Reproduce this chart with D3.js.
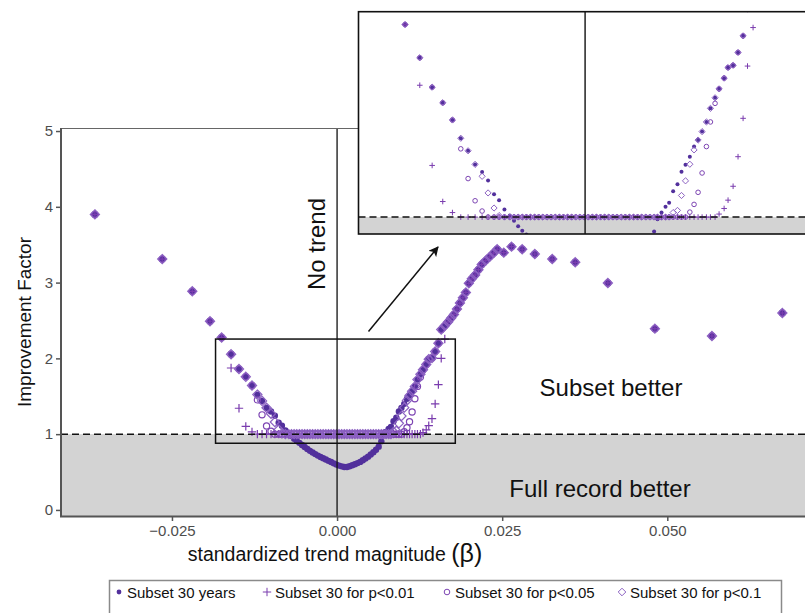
<!DOCTYPE html>
<html><head><meta charset="utf-8">
<script src="https://cdn.jsdelivr.net/npm/d3@7"></script>
<style>
body{margin:0;background:#fff}
svg{display:block}
text{font-family:"Liberation Sans", Arial, Helvetica, sans-serif}
</style>
</head><body>
<svg id="c" width="805" height="613"></svg>
<script>
// ---------------- data ----------------
const beta = [
  -0.03667, -0.02647, -0.02192, -0.01924, -0.01748, -0.01605, -0.01485, -0.01382, -0.01288,
  -0.01207, -0.01136, -0.01068, -0.01000, -0.00942, -0.00884, -0.00835, -0.00783, -0.00731,
  -0.0069, -0.0065, -0.0061, -0.0057, -0.0053, -0.0049, -0.0045, -0.0041, -0.0037, -0.0033,
  -0.0029, -0.0025, -0.0021, -0.0017, -0.0013, -0.0009, -0.0005, -0.0001, 0.0003, 0.0007,
  0.0011, 0.0015, 0.0019, 0.0023, 0.0027, 0.0031, 0.0035, 0.0039, 0.0043, 0.0047, 0.0051,
  0.0055, 0.0059, 0.0063, 0.0067,
  0.00703, 0.00742, 0.00781, 0.00816, 0.00855, 0.00897, 0.00936, 0.00975, 0.01017, 0.01058,
  0.01097, 0.01136, 0.01178, 0.01217, 0.01262, 0.01301, 0.01350, 0.01388, 0.01437, 0.01485,
  0.01534, 0.01577, 0.01631,
  0.01680, 0.01725, 0.01770, 0.01815, 0.01860, 0.01905, 0.01950, 0.01995, 0.02040, 0.02090,
  0.02140, 0.02190, 0.02250, 0.02310, 0.02370, 0.02424, 0.02524, 0.02641, 0.02803, 0.02994,
  0.03258, 0.03606, 0.04100, 0.04812, 0.05676, 0.06742
];
const subset30 = [
  3.90, 3.31, 2.885, 2.49, 2.275, 2.055, 1.86, 1.757, 1.643,
  1.522, 1.439, 1.349, 1.299, 1.243, 1.151, 1.112, 1.05, 1.01,
  0.975, 0.94, 0.91, 0.885, 0.857, 0.83, 0.805, 0.78, 0.758, 0.737,
  0.717, 0.698, 0.682, 0.665, 0.648, 0.632, 0.615, 0.598, 0.585, 0.575,
  0.567, 0.566, 0.577, 0.59, 0.603, 0.618, 0.634, 0.655, 0.678, 0.703, 0.732,
  0.762, 0.795, 0.835, 0.905,
  0.985, 1.03, 1.068, 1.095, 1.171, 1.217, 1.30, 1.347, 1.40, 1.467,
  1.51, 1.566, 1.63, 1.72, 1.79, 1.849, 1.92, 1.99, 2.005, 2.09,
  2.20, 2.38, 2.43,
  2.48, 2.53, 2.58, 2.65, 2.73, 2.80, 2.87, 2.99, 3.05, 3.10,
  3.17, 3.24, 3.29, 3.34, 3.39, 3.44, 3.395, 3.474, 3.44, 3.377,
  3.311, 3.268, 2.995, 2.392, 2.295, 2.599
];
const p01 = [
  3.90, 3.31, 2.885, 2.49, 2.275, 1.873, 1.342, 1.103, 1.03,
  1, 1, 1, 1, 1, 1, 1, 1, 1,
  1, 1, 1, 1, 1, 1, 1, 1, 1, 1,
  1, 1, 1, 1, 1, 1, 1, 1, 1, 1,
  1, 1, 1, 1, 1, 1, 1, 1, 1, 1, 1,
  1, 1, 1, 1,
  1, 1, 1, 1, 1, 1, 1, 1, 1, 1,
  1, 1, 1, 1, 1, 1.02, 1.057, 1.112, 1.204, 1.40,
  1.654, 2.0, 2.255,
  2.48, 2.53, 2.58, 2.65, 2.73, 2.80, 2.87, 2.99, 3.05, 3.10,
  3.17, 3.24, 3.29, 3.34, 3.39, 3.44, 3.395, 3.474, 3.44, 3.377,
  3.311, 3.268, 2.995, 2.392, 2.295, 2.599
];
const p05 = [
  3.90, 3.31, 2.885, 2.49, 2.275, 2.055, 1.86, 1.757, 1.643,
  1.452, 1.255, 1.108, 1.04, 1, 1, 1, 1, 1,
  1, 1, 1, 1, 1, 1, 1, 1, 1, 1,
  1, 1, 1, 1, 1, 1, 1, 1, 1, 1,
  1, 1, 1, 1, 1, 1, 1, 1, 1, 1, 1,
  1, 1, 1, 1,
  1, 1, 1, 1, 1, 1, 1, 1, 1.033, 1.084,
  1.164, 1.292, 1.467, 1.63, 1.753, 1.849, 1.92, 1.99, 2.005, 2.09,
  2.20, 2.38, 2.43,
  2.48, 2.53, 2.58, 2.65, 2.73, 2.80, 2.87, 2.99, 3.05, 3.10,
  3.17, 3.24, 3.29, 3.34, 3.39, 3.44, 3.395, 3.474, 3.44, 3.377,
  3.311, 3.268, 2.995, 2.392, 2.295, 2.599
];
const p10 = [
  3.90, 3.31, 2.885, 2.49, 2.275, 2.055, 1.86, 1.757, 1.643,
  1.522, 1.439, 1.349, 1.27, 1.16, 1.06, 1.01, 1, 1,
  1, 1, 1, 1, 1, 1, 1, 1, 1, 1,
  1, 1, 1, 1, 1, 1, 1, 1, 1, 1,
  1, 1, 1, 1, 1, 1, 1, 1, 1, 1, 1,
  1, 1, 1, 1,
  1, 1, 1, 1, 1.03, 1.044, 1.143, 1.24, 1.35, 1.445,
  1.51, 1.566, 1.63, 1.72, 1.79, 1.849, 1.92, 1.99, 2.005, 2.09,
  2.20, 2.38, 2.43,
  2.48, 2.53, 2.58, 2.65, 2.73, 2.80, 2.87, 2.99, 3.05, 3.10,
  3.17, 3.24, 3.29, 3.34, 3.39, 3.44, 3.395, 3.474, 3.44, 3.377,
  3.311, 3.268, 2.995, 2.392, 2.295, 2.599
];
const xTicks = [-0.025, 0, 0.025, 0.05];
const yTicks = [0, 1, 2, 3, 4, 5];
const seriesNames = ["Subset 30 years", "Subset 30 for p<0.01", "Subset 30 for p<0.05", "Subset 30 for p<0.1"];
const seriesShapes = ["dot", "plus", "circle", "diamond"];
const seriesColors = ["#52309c", "#7a3cae", "#7d45b3", "#8c62c2"];
const seriesValues = [subset30, p01, p05, p10];
const threshold = 1;
const zoomBox = {b0: -0.0184, b1: 0.0179, v0: 0.88, v1: 2.255};

// ---------------- drawing ----------------
const svg = d3.select("#c");
const W = 805, H = 613;

const x = d3.scaleLinear().domain([-0.0418, 0.0710]).range([61, 806]);
const y = d3.scaleLinear().domain([-0.08, 5.04]).range([516, 128]);

svg.append("clipPath").attr("id", "mainClip").append("rect")
  .attr("x", 61).attr("y", 128).attr("width", W - 61).attr("height", 388);

function drawSymbols(g, xs, ys, vals, shape, color, sz) {
  const pts = beta.map((b, i) => [xs(b), ys(vals[i])]);
  if (shape === "dot") {
    g.selectAll(null).data(pts).enter().append("circle")
      .attr("cx", d => d[0]).attr("cy", d => d[1]).attr("r", sz.dot)
      .attr("fill", color);
  } else if (shape === "circle") {
    g.selectAll(null).data(pts).enter().append("circle")
      .attr("cx", d => d[0]).attr("cy", d => d[1]).attr("r", sz.circle)
      .attr("fill", "none").attr("stroke", color).attr("stroke-width", sz.sw);
  } else if (shape === "plus") {
    const h = sz.plus;
    g.selectAll(null).data(pts).enter().append("path")
      .attr("d", d => `M${d[0]-h},${d[1]}H${d[0]+h}M${d[0]},${d[1]-h}V${d[1]+h}`)
      .attr("fill", "none").attr("stroke", color).attr("stroke-width", sz.sw);
  } else {
    const h = sz.diamond;
    g.selectAll(null).data(pts).enter().append("path")
      .attr("d", d => `M${d[0]},${d[1]-h}L${d[0]+h},${d[1]}L${d[0]},${d[1]+h}L${d[0]-h},${d[1]}Z`)
      .attr("fill", "none").attr("stroke", color).attr("stroke-width", sz.sw);
  }
}

// main panel
const main = svg.append("g");
const mc = main.append("g").attr("clip-path", "url(#mainClip)");
mc.append("rect").attr("x", 61).attr("y", y(threshold))
  .attr("width", W - 61).attr("height", 516 - y(threshold)).attr("fill", "#d3d3d3");

const mainSize = {dot: 3.2, circle: 3.1, plus: 4.2, diamond: 4.6, sw: 1.2};
seriesShapes.forEach((s, k) => {
  drawSymbols(mc.append("g"), x, y, seriesValues[k], s, seriesColors[k], mainSize);
});

mc.append("line").attr("x1", 61).attr("x2", W).attr("y1", y(threshold)).attr("y2", y(threshold))
  .attr("stroke", "#111").attr("stroke-width", 1.5).attr("stroke-dasharray", "7,4");
mc.append("line").attr("x1", x(0)).attr("x2", x(0)).attr("y1", 128).attr("y2", 516)
  .attr("stroke", "#111").attr("stroke-width", 1.3);

// zoom box
main.append("rect")
  .attr("x", x(zoomBox.b0)).attr("y", y(zoomBox.v1))
  .attr("width", x(zoomBox.b1) - x(zoomBox.b0)).attr("height", y(zoomBox.v0) - y(zoomBox.v1))
  .attr("fill", "none").attr("stroke", "#111").attr("stroke-width", 1.5);

// panel border lines
main.append("line").attr("x1", 61).attr("x2", W).attr("y1", 128.5).attr("y2", 128.5)
  .attr("stroke", "#666").attr("stroke-width", 1.2);
main.append("line").attr("x1", 61).attr("x2", 61).attr("y1", 128).attr("y2", 517)
  .attr("stroke", "#555").attr("stroke-width", 2);
main.append("line").attr("x1", 60).attr("x2", W).attr("y1", 516.5).attr("y2", 516.5)
  .attr("stroke", "#555").attr("stroke-width", 2);

// axes
const yAxis = svg.append("g").attr("transform", "translate(61,0)")
  .call(d3.axisLeft(y).tickValues(yTicks).tickFormat(d3.format("d")).tickSize(5).tickPadding(3));
yAxis.select(".domain").remove();
yAxis.selectAll("line").attr("stroke", "#555").attr("stroke-width", 1.5);
yAxis.selectAll("text").attr("fill", "#4d4d4d").style("font-size", "15px");

const xAxis = svg.append("g").attr("transform", "translate(0,516)")
  .call(d3.axisBottom(x).tickValues(xTicks).tickFormat(d3.format(".3f")).tickSize(5).tickPadding(4));
xAxis.select(".domain").remove();
xAxis.selectAll("line").attr("stroke", "#555").attr("stroke-width", 1.5);
xAxis.selectAll("text").attr("fill", "#4d4d4d").style("font-size", "15px");

// axis titles
svg.append("text").attr("transform", "translate(31,322) rotate(-90)")
  .attr("text-anchor", "middle").style("font-size", "19px").attr("fill", "#111")
  .text("Improvement Factor");
const xt = svg.append("text").attr("x", 335).attr("y", 561)
  .attr("text-anchor", "middle").style("font-size", "19.5px").attr("fill", "#111");
xt.append("tspan").text("standardized trend magnitude ");
xt.append("tspan").style("font-size", "25px").attr("dy", 1).text("(β)");

// annotations
svg.append("text").attr("transform", `translate(${x(0) - 12},244) rotate(-90)`)
  .attr("text-anchor", "middle").style("font-size", "24px").attr("fill", "#111").text("No trend");
svg.append("text").attr("x", 611).attr("y", 396).attr("text-anchor", "middle")
  .style("font-size", "24px").attr("fill", "#111").text("Subset better");
svg.append("text").attr("x", 600).attr("y", 497).attr("text-anchor", "middle")
  .style("font-size", "24px").attr("fill", "#111").text("Full record better");

// arrow
const defs = svg.append("defs");
defs.append("marker").attr("id", "arrowHead").attr("viewBox", "0 0 10 10")
  .attr("refX", 9).attr("refY", 5).attr("markerWidth", 10).attr("markerHeight", 10)
  .attr("markerUnits", "userSpaceOnUse").attr("orient", "auto")
  .append("path").attr("d", "M0,0L10,5L0,10L2.5,5Z").attr("fill", "#111");
svg.append("line").attr("x1", 368.5).attr("y1", 331.5).attr("x2", 438).attr("y2", 247)
  .attr("stroke", "#111").attr("stroke-width", 1.5).attr("marker-end", "url(#arrowHead)");

// ---------------- inset ----------------
const ix = d3.scaleLinear().domain([-0.0220, 0.0214]).range([358.5, 805.5]);
const iy = d3.scaleLinear().domain([0.888, 2.36]).range([234, 11.7]);
svg.append("clipPath").attr("id", "insetClip").append("rect")
  .attr("x", 358.5).attr("y", 11.7).attr("width", W - 358.5).attr("height", 234 - 11.7);
const inset = svg.append("g");
inset.append("rect").attr("x", 358.5).attr("y", 11.7).attr("width", W - 358.5).attr("height", 234 - 11.7)
  .attr("fill", "#fff");
const ic = inset.append("g").attr("clip-path", "url(#insetClip)");
ic.append("rect").attr("x", 358.5).attr("y", iy(threshold)).attr("width", W - 358.5)
  .attr("height", 234 - iy(threshold)).attr("fill", "#d3d3d3");
const insetSize = {dot: 2.0, circle: 2.3, plus: 2.8, diamond: 3.1, sw: 1.0};
seriesShapes.forEach((s, k) => {
  drawSymbols(ic.append("g"), ix, iy, seriesValues[k], s, seriesColors[k], insetSize);
});
ic.append("line").attr("x1", 358.5).attr("x2", W).attr("y1", iy(threshold)).attr("y2", iy(threshold))
  .attr("stroke", "#111").attr("stroke-width", 1.5).attr("stroke-dasharray", "7,4");
ic.append("line").attr("x1", ix(0)).attr("x2", ix(0)).attr("y1", 11.7).attr("y2", 234)
  .attr("stroke", "#111").attr("stroke-width", 1.4);
inset.append("rect").attr("x", 358.5).attr("y", 11.7).attr("width", W - 358.5 + 5).attr("height", 234 - 11.7)
  .attr("fill", "none").attr("stroke", "#111").attr("stroke-width", 1.6);

// ---------------- legend ----------------
const lg = svg.append("g");
lg.append("rect").attr("x", 109.5).attr("y", 580.5).attr("width", 672).attr("height", 40)
  .attr("fill", "#fff").attr("stroke", "#8a8a8a").attr("stroke-width", 1.5);
const legX = [119, 267, 447, 622];
const legendSize = {dot: 2.4, circle: 2.8, plus: 4.2, diamond: 3.8, sw: 1.0};
seriesNames.forEach((name, k) => {
  const cx = legX[k], cy = 592;
  const g = lg.append("g");
  const s = seriesShapes[k], c = seriesColors[k], h = legendSize;
  if (s === "dot") g.append("circle").attr("cx", cx).attr("cy", cy).attr("r", h.dot).attr("fill", c);
  else if (s === "circle") g.append("circle").attr("cx", cx).attr("cy", cy).attr("r", h.circle)
    .attr("fill", "none").attr("stroke", c).attr("stroke-width", h.sw);
  else if (s === "plus") g.append("path")
    .attr("d", `M${cx-h.plus},${cy}H${cx+h.plus}M${cx},${cy-h.plus}V${cy+h.plus}`)
    .attr("stroke", c).attr("stroke-width", h.sw).attr("fill", "none");
  else g.append("path")
    .attr("d", `M${cx},${cy-h.diamond}L${cx+h.diamond},${cy}L${cx},${cy+h.diamond}L${cx-h.diamond},${cy}Z`)
    .attr("stroke", c).attr("stroke-width", h.sw).attr("fill", "none");
  g.append("text").attr("x", cx + 8).attr("y", 597.5).style("font-size", "15px").attr("fill", "#111").text(name);
});
</script>
</body></html>
